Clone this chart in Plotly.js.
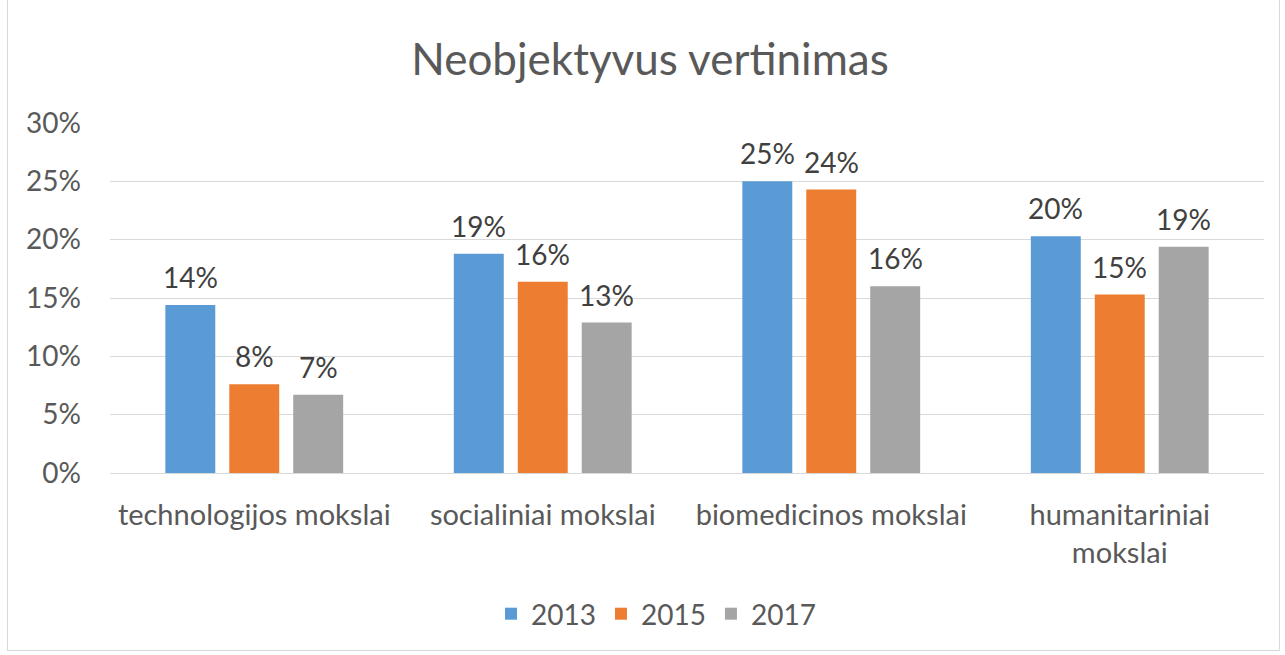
<!DOCTYPE html>
<html>
<head>
<meta charset="utf-8">
<script src="https://cdn.plot.ly/plotly-3.0.1.min.js"></script>
<style>
  html, body { margin: 0; padding: 0; background: #fff; }
  #frame { position: absolute; left: 7px; top: -1px; width: 1271px; height: 650px; border: 1px solid #d9d9d9; }
  #chart { position: absolute; left: 0; top: 0; width: 1285px; height: 655px; }
</style>
</head>
<body>
<div id="frame"></div>
<div id="chart"></div>
<script>
const categories = ["technologijos mokslai", "socialiniai mokslai", "biomedicinos mokslai", "humanitariniai<br>mokslai"];
const seriesNames = ["2013", "2015", "2017"];
const values2013 = [14.4, 18.8, 25.0, 20.3];
const values2015 = [7.6, 16.4, 24.3, 15.3];
const values2017 = [6.7, 12.9, 16.0, 19.4];
const yTickVals = [0, 5, 10, 15, 20, 25, 30];
const yTickText = ["0%", "5%", "10%", "15%", "20%", "25%", "30%"];

const colors = ["#5B9BD5", "#ED7D31", "#A5A5A5"];
const allValues = [values2013, values2015, values2017];
const FONT = "Lato, 'Open Sans', sans-serif";

const traces = allValues.map((vals, i) => ({
  type: "bar",
  name: seriesNames[i],
  x: categories,
  y: vals,
  marker: { color: colors[i] },
  hoverinfo: "skip"
}));

const annotations = [];
allValues.forEach((vals, i) => {
  vals.forEach((v, j) => {
    annotations.push({
      x: categories[j], y: v, xref: "x", yref: "y",
      text: Math.round(v) + "%",
      showarrow: false,
      xshift: (i - 1) * 64,
      yshift: 9,
      yanchor: "bottom",
      font: { family: FONT, size: 28, color: "#404040" }
    });
  });
});

const layout = {
  width: 1285, height: 655,
  margin: { l: 110, r: 21, t: 123, b: 182, autoexpand: false },
  paper_bgcolor: "rgba(0,0,0,0)",
  plot_bgcolor: "rgba(0,0,0,0)",
  barmode: "group",
  bargap: 0.335,
  bargroupgap: 0.219,
  title: {
    text: "Neobjektyvus vertinimas",
    x: 650 / 1285, xanchor: "center", xref: "container",
    y: 1 - 60 / 655, yanchor: "middle",
    font: { family: FONT, size: 44, color: "#595959" }
  },
  xaxis: {
    type: "category",
    showgrid: false,
    showline: false,
    zeroline: false,
    ticks: "",
    ticklabelstandoff: 22,
    tickfont: { family: FONT, size: 29, color: "#595959" },
    fixedrange: true
  },
  yaxis: {
    range: [0, 30],
    tickvals: yTickVals,
    ticktext: yTickText,
    showgrid: true,
    gridcolor: "#d9d9d9",
    gridwidth: 1,
    zeroline: true,
    zerolinecolor: "#d9d9d9",
    zerolinewidth: 1,
    showline: false,
    ticks: "",
    ticklabelstandoff: 28,
    tickfont: { family: FONT, size: 28, color: "#595959" },
    fixedrange: true
  },
  showlegend: true,
  legend: {
    orientation: "h",
    x: (656 - 110) / 1154, xanchor: "center",
    y: (473 - 614) / 350, yanchor: "middle",
    font: { family: FONT, size: 28, color: "#595959" },
    itemwidth: 30,
    tracegroupgap: 0,
    bgcolor: "rgba(0,0,0,0)"
  },
  annotations: annotations
};

Plotly.newPlot("chart", traces, layout, { displayModeBar: false, staticPlot: true });
</script>
</body>
</html>
